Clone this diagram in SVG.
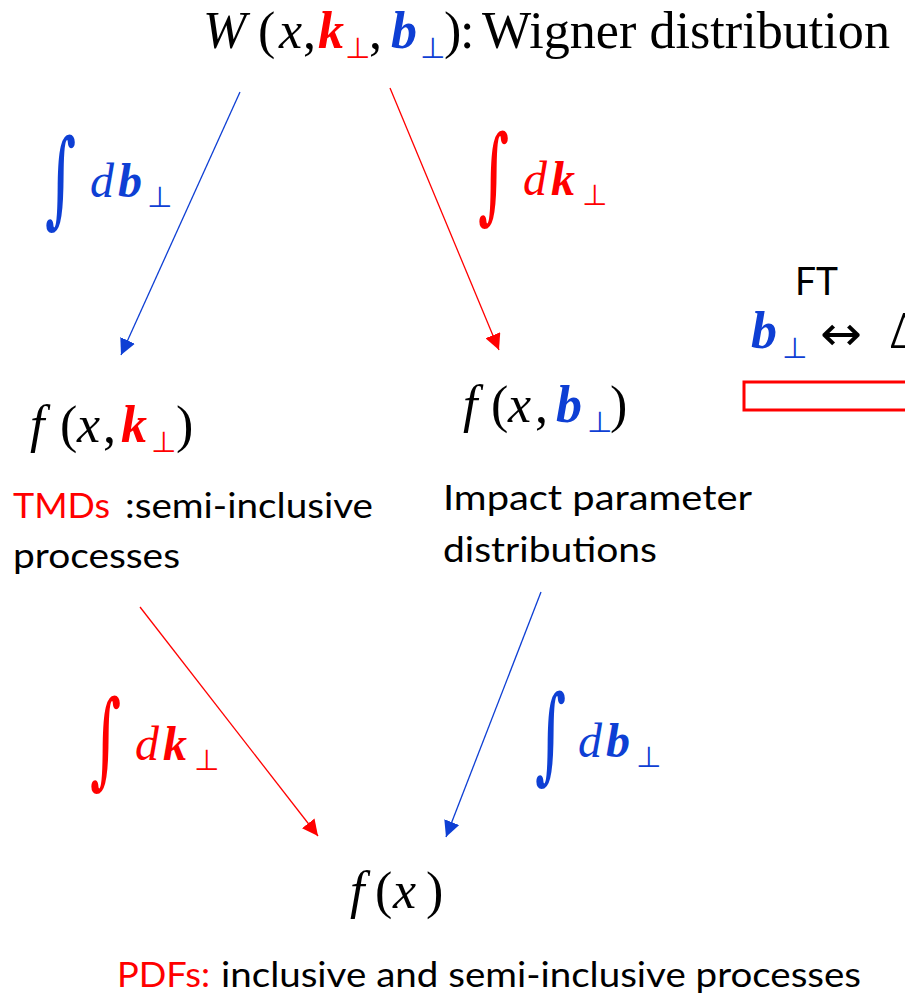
<svg xmlns="http://www.w3.org/2000/svg" width="905" height="1000" viewBox="0 0 905 1000">
<style>
.m{font-family:"Liberation Serif","DejaVu Serif",serif;font-style:italic;font-size:52px;fill:#000}
.u{font-family:"Liberation Serif","DejaVu Serif",serif;font-size:52px;fill:#000}
.bi{font-family:"Liberation Serif","DejaVu Serif",serif;font-style:italic;font-weight:bold;font-size:52px}
.perp{font-family:"DejaVu Sans",sans-serif;font-size:29px}
.int{font-family:"DejaVu Serif",serif;font-size:60px}
.txt{font-family:Lato,"Open Sans",sans-serif;font-size:35px;fill:#000}
.r{fill:#FF0000}
.b{fill:#0E3FD4}
.al{fill:none;stroke-width:1.3}
.t{font-size:52px}
.di{font-size:48px}
</style>
<defs>
<marker id="ar" markerUnits="userSpaceOnUse" markerWidth="18" markerHeight="16" refX="16" refY="8" orient="auto"><path d="M0,0 L16,8 L0,16 z" fill="#FF0000"/></marker>
<marker id="ab" markerUnits="userSpaceOnUse" markerWidth="18" markerHeight="16" refX="16" refY="8" orient="auto"><path d="M0,0 L16,8 L0,16 z" fill="#0E3FD4"/></marker>
</defs>
<rect width="905" height="1000" fill="#fff"/>

<g id="connectors">
<line class="al" x1="240" y1="92" x2="121" y2="355" stroke="#0E3FD4" marker-end="url(#ab)"/>
<line class="al" x1="390" y1="88" x2="499" y2="350" stroke="#FF0000" marker-end="url(#ar)"/>
<line class="al" x1="140" y1="607" x2="318" y2="836" stroke="#FF0000" marker-end="url(#ar)"/>
<line class="al" x1="541" y1="592" x2="446" y2="837" stroke="#0E3FD4" marker-end="url(#ab)"/>
</g>

<g id="wigner">
<text class="m t" x="203" y="48">W</text>
<text class="u t" x="258" y="48">(</text>
<text class="m t" x="279" y="48">x</text>
<text class="u t" x="303" y="48">,</text>
<text class="bi r t" x="318" y="48">k</text>
<text class="perp r" x="345" y="58">⊥</text>
<text class="u t" x="369" y="48">,</text>
<text class="bi b t" x="391" y="48">b</text>
<text class="perp b" x="420" y="58">⊥</text>
<text class="u t" x="444" y="48">)</text>
<text class="u t" x="460" y="48">:</text>
<text class="u t" x="482" y="48" textLength="408" lengthAdjust="spacingAndGlyphs">Wigner distribution</text>
</g>

<g id="int-b-top">
<text class="int b" transform="translate(45,214) scale(1,1.75)">∫</text>
<text class="m b di" x="90" y="197">d</text>
<text class="bi b di" x="118" y="197">b</text>
<text class="perp b" x="147" y="207">⊥</text>
</g>

<g id="int-k-top">
<text class="int r" transform="translate(478,210) scale(1,1.75)">∫</text>
<text class="m r di" x="523" y="195">d</text>
<text class="bi r di" x="551" y="195">k</text>
<text class="perp r" x="582" y="205">⊥</text>
</g>

<g id="tmd">
<text class="m" x="30" y="442">f</text>
<text class="u" x="60" y="442">(</text>
<text class="m" x="77" y="442">x</text>
<text class="u" x="103" y="442">,</text>
<text class="bi r" x="121" y="442">k</text>
<text class="perp r" x="151" y="452">⊥</text>
<text class="u" x="176" y="442">)</text>
<text class="txt r" x="13" y="518" textLength="97" lengthAdjust="spacingAndGlyphs">TMDs</text>
<text class="txt" x="125" y="518" textLength="248" lengthAdjust="spacingAndGlyphs">:semi-inclusive</text>
<text class="txt" x="13" y="568" textLength="167" lengthAdjust="spacingAndGlyphs">processes</text>
</g>

<g id="ipd">
<text class="m" x="463" y="422">f</text>
<text class="u" x="491" y="422">(</text>
<text class="m" x="508" y="422">x</text>
<text class="u" x="535" y="422">,</text>
<text class="bi b" x="556" y="422">b</text>
<text class="perp b" x="587" y="432">⊥</text>
<text class="u" x="610" y="422">)</text>
<text class="txt" x="443" y="510" textLength="309" lengthAdjust="spacingAndGlyphs">Impact parameter</text>
<text class="txt" x="443" y="562" textLength="214" lengthAdjust="spacingAndGlyphs">distributions</text>
</g>

<g id="ft">
<text class="txt" x="795" y="295" style="font-size:38px" textLength="43" lengthAdjust="spacingAndGlyphs">FT</text>
<text class="bi b" x="751" y="348">b</text>
<text class="perp b" x="782" y="358">⊥</text>
<text x="820" y="350" style="font-family:'DejaVu Sans',sans-serif;font-size:48px" textLength="42" lengthAdjust="spacingAndGlyphs">↔</text>
<text class="u" x="889" y="348">Δ</text>
<rect x="744" y="382" width="200" height="28" fill="none" stroke="#FF0000" stroke-width="3"/>
</g>

<g id="int-k-bot">
<text class="int r" transform="translate(90,775) scale(1,1.75)">∫</text>
<text class="m r di" x="135" y="760">d</text>
<text class="bi r di" x="163" y="760">k</text>
<text class="perp r" x="194" y="770">⊥</text>
</g>

<g id="int-b-bot">
<text class="int b" transform="translate(535,770) scale(1,1.75)">∫</text>
<text class="m b di" x="578" y="757">d</text>
<text class="bi b di" x="606" y="757">b</text>
<text class="perp b" x="636" y="767">⊥</text>
</g>

<g id="pdf">
<text class="m" x="350" y="908">f</text>
<text class="u" x="375" y="908">(</text>
<text class="m" x="393" y="908">x</text>
<text class="u" x="426" y="908">)</text>
<text class="txt r" x="117" y="987" textLength="93" lengthAdjust="spacingAndGlyphs">PDFs:</text>
<text class="txt" x="221" y="987" textLength="640" lengthAdjust="spacingAndGlyphs">inclusive and semi-inclusive processes</text>
</g>
</svg>
